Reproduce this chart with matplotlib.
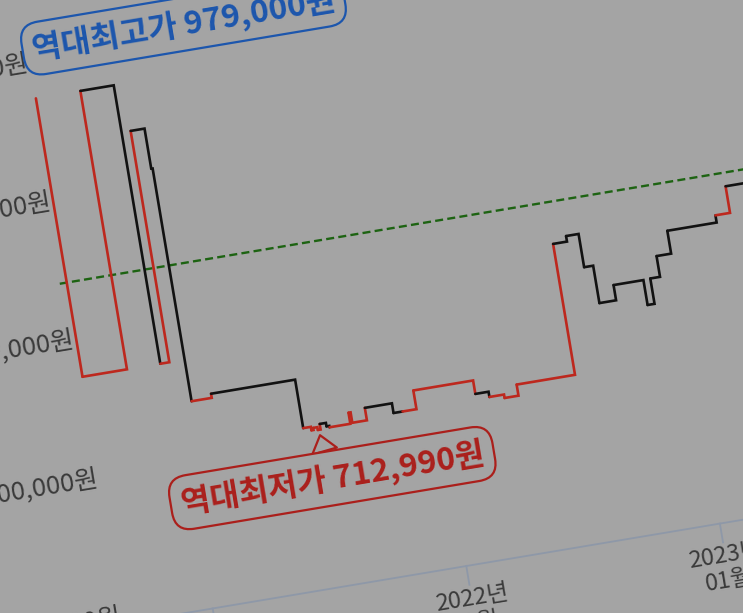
import matplotlib
matplotlib.use("Agg")
import matplotlib.pyplot as plt
import matplotlib.dates as mdates
from matplotlib.collections import LineCollection
from matplotlib.transforms import Affine2D
import pandas as pd

plt.rcParams['font.family'] = ['Noto Sans CJK KR', 'DejaVu Sans']

# 가격 이력 (계단형): 각 날짜부터 다음 날짜까지 유지된 가격과 구간 색
dates = ["2020-08-26", "2020-08-26", "2020-10-29", "2020-12-16", "2020-12-29",
         "2021-01-18", "2021-01-20", "2021-02-18", "2021-06-19", "2021-06-30",
         "2021-07-03", "2021-07-09", "2021-07-13", "2021-07-22", "2021-07-26",
         "2021-08-25", "2021-08-28", "2021-09-18", "2021-10-27", "2021-11-09",
         "2021-11-29", "2022-02-23", "2022-03-14", "2022-04-04", "2022-04-24",
         "2022-07-17", "2022-08-06", "2022-08-24", "2022-09-06", "2022-09-30",
         "2022-11-12", "2022-11-22", "2022-12-06", "2022-12-27", "2023-03-08",
         "2023-03-29"]
prices = [979000, 778000, 979000, 778000, 945000,
          916000, 748000, 751000, 716000, 713500,
          715000, 712990, 717000, 714500, 713500,
          721500, 714000, 723000, 716000, 716000,
          729500, 719800, 716000, 713500, 721500,
          816000, 820000, 796000, 769000, 780000,
          762000, 780300, 795300, 811800, 817000,
          836200]
seg_colors = ["r", "r", "k", "r", "k",
              "k", "r", "k", "r", "r",
              "r", "r", "k", "k", "r",
              "r", "r", "k", "k", "r",
              "r", "k", "r", "r", "r",
              "k", "k", "k", "k", "k",
              "k", "k", "k", "k", "r",
              "k"]
end_date = "2023-06-30"
plot_start = "2020-08-16"

avg_price = 846000
max_price = 979000
min_price = 712990
min_date = "2021-07-10"

axis_price = 600000
ytick_vals = [600000, 700000, 800000, 900000, 1000000]
ytick_labels = ["600,000원", "700,000원", "800,000원", "900,000원", "1,000,000원"]
xtick_dates = ["2021-01-01", "2022-01-01", "2023-01-01"]
xtick_labels = ["2021년\n01월", "2022년\n01월", "2023년\n01월"]

BG = "#a4a4a4"
RED = "#bd281e"
DARKRED = "#ab1f1b"
BLUE = "#1c56ad"
GREEN = "#1d6312"
AXIS = "#8e98a8"
TXT = "#3a3a3a"
col_map = {"r": RED, "k": "#121212"}

W, H = 743, 613
fig = plt.figure(figsize=(W / 100, H / 100), dpi=100)
fig.patch.set_facecolor(BG)
ax = fig.add_axes([0, 0, 1, 1])
ax.set_axis_off()
ax.set_facecolor(BG)

# 사진 속 화면처럼 기울어진 차트: 1년 = 257px, 1px = 712원, 9.5도 회전
px_per_year = 257.3
won_per_px = 712
angle = 9.5
ox = 429
t_ref = mdates.date2num(pd.Timestamp("2022-01-01"))
x_lo = t_ref - (ox + 37.1) / px_per_year * 365.25
ax.set_xlim(x_lo, x_lo + W / px_per_year * 365.25)
y_base = 603000
ax.set_ylim(y_base, y_base + H * won_per_px)
tr = ax.transData + Affine2D().rotate_deg_around(ox, 0, angle).translate(0, 45)

t = mdates.date2num(pd.to_datetime(dates + [end_date]))
x_start = mdates.date2num(pd.Timestamp(plot_start))
x_end = t[-1]

# 평균가 점선
ax.plot([x_start, x_end], [avg_price, avg_price], transform=tr, color=GREEN,
        lw=1.7, dashes=(3.4, 1.8))

# 가격 계단선
segs = []
for i in range(len(prices)):
    nxt = prices[i + 1] if i + 1 < len(prices) else prices[i]
    segs.append([(t[i], prices[i]), (t[i + 1], prices[i]), (t[i + 1], nxt)])
lc = LineCollection(segs, colors=[col_map[c] for c in seg_colors], linewidths=1.9,
                    transform=tr, capstyle="round", joinstyle="miter")
ax.add_collection(lc, autolim=False)

# x축
tick_len = 19 * won_per_px
ax.plot([x_start, x_end], [axis_price, axis_price], transform=tr, color=AXIS, lw=1.3)
for d, lab in zip(xtick_dates, xtick_labels):
    xd = mdates.date2num(pd.Timestamp(d))
    ax.plot([xd, xd], [axis_price, axis_price - tick_len], transform=tr, color=AXIS, lw=1.3)
    ax.text(xd, axis_price - tick_len - 2 * won_per_px, lab, transform=tr, rotation=angle,
            rotation_mode="anchor", ha="center", va="top", fontsize=17, color=TXT,
            linespacing=1.15)

# y축 라벨
for v, lab in zip(ytick_vals, ytick_labels):
    ax.text(t[0] - 2, v + 7 * won_per_px, lab, transform=tr, rotation=angle,
            rotation_mode="anchor", ha="right", va="center", fontsize=18.5, color=TXT)

# 역대 최고가 / 최저가
ax.text(mdates.date2num(pd.Timestamp("2021-04-07")), 1013800,
        f"역대최고가 {max_price:,}원", transform=tr, rotation=angle,
        rotation_mode="anchor", ha="center", va="center", fontsize=23,
        fontweight="bold", color=BLUE,
        bbox=dict(boxstyle="round,pad=0.3,rounding_size=0.6", fc=BG, ec=BLUE, lw=1.6))

ax.annotate(f"역대최저가 {min_price:,}원",
            xy=(mdates.date2num(pd.Timestamp(min_date)), min_price),
            xytext=(mdates.date2num(pd.Timestamp("2021-07-18")), 677500),
            xycoords=tr, textcoords=tr, rotation=angle, rotation_mode="anchor",
            ha="center", va="center", fontsize=23, fontweight="bold", color=DARKRED,
            bbox=dict(boxstyle="round,pad=0.32,rounding_size=0.6", fc=BG, ec=DARKRED, lw=1.6),
            arrowprops=dict(arrowstyle="wedge,tail_width=0.8,shrink_factor=0.5",
                            fc=BG, ec=DARKRED, lw=1.6, shrinkA=0, shrinkB=4))

fig.savefig("out.png", dpi=100, facecolor=BG)
